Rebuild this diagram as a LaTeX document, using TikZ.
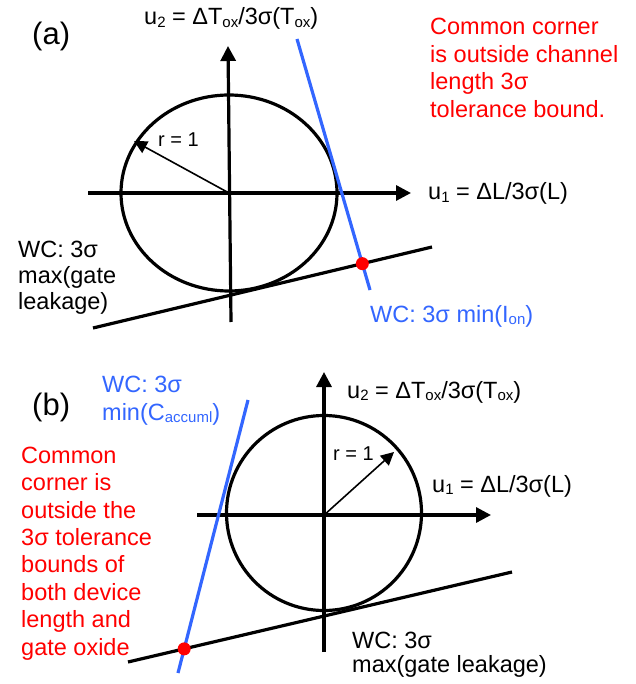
\documentclass[tikz,border=0pt]{standalone}
\usepackage{fontspec}
\setmainfont{Liberation Sans}
\usetikzlibrary{arrows.meta}
\definecolor{wcblue}{RGB}{51,102,255}
\definecolor{wcred}{RGB}{255,0,0}
\newcommand{\lo}[1]{\raisebox{-2.5pt}{\fontsize{15}{15}\selectfont #1}}
\begin{document}
\begin{tikzpicture}[x=1pt,y=-1pt,
  ax/.style={line width=3.2pt,-{Triangle[length=15pt,width=15pt]}},
  ring/.style={line width=3.2pt},
  tline/.style={line width=3.2pt},
  bline/.style={line width=3.2pt,wcblue},
  rarrow/.style={line width=1.6pt,-{Triangle[length=13pt,width=13pt]}},
  lbl/.style={anchor=base west,inner sep=0pt,font=\fontsize{23.5}{27.5}\selectfont,align=left},
  plbl/.style={anchor=base west,inner sep=0pt,font=\fontsize{31}{36}\selectfont},
  rlbl/.style={anchor=base west,inner sep=0pt,font=\fontsize{20}{24}\selectfont},
  cdot/.style={circle,fill=wcred,inner sep=0pt,minimum size=13pt}]
\useasboundingbox (0,0) rectangle (635,684);
% ---------- (a) ----------
\coordinate (ca) at (229,193);
\coordinate (va0) at (231,322);
\coordinate (va1) at (228,46);
\coordinate (ha0) at (88,193);
\coordinate (ha1) at (411,193);
\coordinate (ta0) at (93,328);
\coordinate (ta1) at (432,247);
\coordinate (ba0) at (297,39);
\coordinate (ba1) at (370,290);
\coordinate (ra) at (134,141);
\draw[ring] (ca) ellipse [x radius=108, y radius=98];
\draw[ax] (va0) -- (va1);
\draw[ax] (ha0) -- (ha1);
\draw[rarrow] (ca) -- (ra);
\draw[tline] (ta0) -- (ta1);
\draw[bline] (ba0) -- (ba1);
\node[cdot] (da) at (intersection of ta0--ta1 and ba0--ba1) {};
\node[plbl] (la) at (32,45) {(a)};
\node[lbl] (u2a) at (144,25) {u\lo{2} = ΔT\lo{ox}/3σ(T\lo{ox})};
\node[lbl] (u1a) at (428,200) {u\lo{1} = ΔL/3σ(L)};
\node[rlbl] (r1a) at (158,147) {r = 1};
% multi-line nodes: base anchor sits on the last line
\node[lbl,text=wcred] (cca) at (430,117.5) {Common corner\\is outside channel\\length 3σ\\tolerance bound.};
\node[lbl,font=\fontsize{23.5}{26}\selectfont] (wga) at (18,309) {WC: 3σ\\max(gate\\leakage)};
\node[lbl,text=wcblue] (wia) at (370,322) {WC: 3σ min(I\lo{on})};
% ---------- (b) ----------
\coordinate (cb) at (324,513);
\coordinate (vb0) at (324,652);
\coordinate (vb1) at (324,372);
\coordinate (hb0) at (197,515);
\coordinate (hb1) at (491,515);
\coordinate (tb0) at (128,662);
\coordinate (tb1) at (512,572);
\coordinate (bb0) at (248,400);
\coordinate (bb1) at (178,673);
\coordinate (rb) at (394,452);
\draw[ring] (cb) circle [radius=97.5];
\draw[ax] (vb0) -- (vb1);
\draw[ax] (hb0) -- (hb1);
\draw[rarrow] (323,516) -- (rb);
\draw[tline] (tb0) -- (tb1);
\draw[bline] (bb0) -- (bb1);
\node[cdot] (db) at (intersection of tb0--tb1 and bb0--bb1) {};
\node[plbl] (lb) at (32,415) {(b)};
\node[lbl] (u2b) at (347,398) {u\lo{2} = ΔT\lo{ox}/3σ(T\lo{ox})};
\node[lbl] (u1b) at (432,492) {u\lo{1} = ΔL/3σ(L)};
\node[rlbl] (r1b) at (333,460) {r = 1};
\node[lbl,text=wcblue] (wcb) at (102,420) {WC: 3σ\\min(C\lo{accuml})};
\node[lbl,text=wcred,font=\fontsize{23.5}{27.4}\selectfont] (ccb) at (21,655) {Common\\corner is\\outside the\\3σ tolerance\\bounds of\\both device\\length and\\gate oxide};
\node[lbl,font=\fontsize{23.5}{24.5}\selectfont] (wgb) at (352,672.5) {WC: 3σ\\max(gate leakage)};
\end{tikzpicture}
\end{document}
